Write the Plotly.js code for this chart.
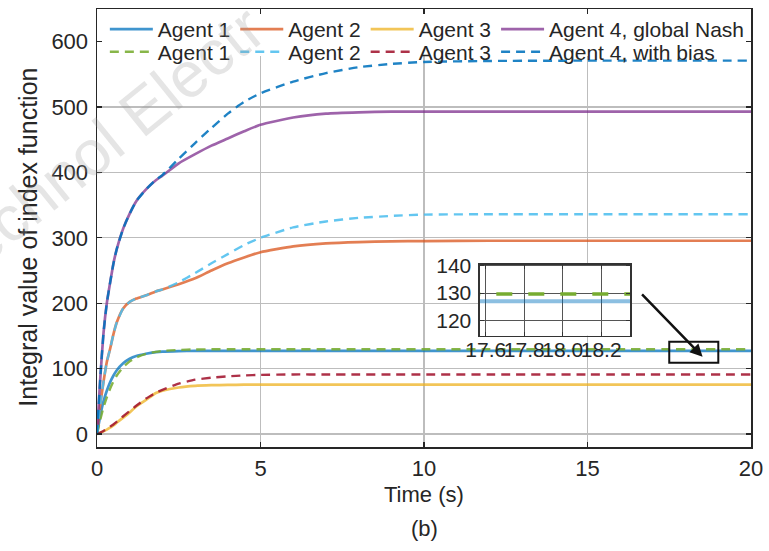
<!DOCTYPE html>
<html>
<head>
<meta charset="utf-8">
<script src="https://cdn.plot.ly/plotly-3.0.1.min.js"></script>
<style>
  html, body { margin: 0; padding: 0; background: #fff; }
  #chart { width: 769px; height: 551px; }
</style>
</head>
<body>
<div id="chart"></div>
<script>
// Sample times (s)
const time = [0, 0.1, 0.2, 0.3, 0.4, 0.5, 0.6, 0.8, 1.0, 1.2, 1.5, 1.8, 2.0, 2.5, 3, 3.5, 4, 4.5, 5, 6, 7, 8, 9, 10, 12, 15, 20];

// Integral value of index function, global Nash strategies
const agent1Nash = [0, 28, 50, 66, 79, 89, 97, 108, 115, 119.3, 122.7, 125, 125.9, 126.7, 127, 127, 127, 127, 127, 127, 127, 127, 127, 127, 127, 127, 127];
const agent2Nash = [0, 45, 80, 110, 130, 152, 170, 192, 202, 207, 212, 218, 221, 229, 238, 250, 261, 270, 278, 287, 291.5, 293.5, 294.5, 295, 295.5, 295.5, 295.5];
const agent3Nash = [0, 1.5, 4, 6.5, 9.5, 13, 17, 25, 33, 42, 52, 62.5, 66, 71, 73.5, 74.5, 75, 75.3, 75.5, 75.5, 75.5, 75.5, 75.5, 75.5, 75.5, 75.5, 75.5];
const agent4Nash = [0, 85, 155, 200, 231, 260, 282, 314, 337, 356, 374, 388, 395, 414, 428, 441, 452, 463, 473, 484, 490, 492, 493, 493, 493, 493, 493];

// Integral value of index function, strategies with bias
const agent1Bias = [0, 22, 41, 56, 69, 80, 89, 102, 111, 117, 122.5, 125.5, 127, 128.5, 129.2, 129.5, 129.6, 129.6, 129.6, 129.6, 129.6, 129.6, 129.6, 129.6, 129.6, 129.6, 129.6];
const agent2Bias = [0, 45, 80, 110, 130, 152, 170, 192, 202, 207, 212, 218, 221, 232, 246, 261, 275, 289, 300, 316, 325, 330.5, 333.5, 335.5, 336, 336, 336];
const agent3Bias = [0, 2, 4.5, 7.5, 11, 14.5, 18.5, 27, 35, 43, 54, 63, 67.5, 77, 83, 86, 88, 89.5, 90.3, 91, 91, 91, 91, 91, 91, 91, 91];
const agent4Bias = [0, 85, 155, 200, 231, 260, 282, 314, 337, 356, 374, 389, 396, 421, 445, 468, 490, 508, 521, 539, 552, 561, 566, 569, 570.5, 571, 571];

// Axis ticks
const xTicks = [0, 5, 10, 15, 20];
const yTicks = [0, 100, 200, 300, 400, 500, 600];
const insetXTicks = [17.6, 17.8, 18.0, 18.2];
const insetXLabels = ['17.6', '17.8', '18.0', '18.2'];
const insetYTicks = [120, 130, 140];

const names = ['Agent 1', 'Agent 2', 'Agent 3', 'Agent 4, global Nash',
               'Agent 1', 'Agent 2', 'Agent 3', 'Agent 4, with bias'];

const FONT = 'Liberation Sans, Arial, Helvetica, sans-serif';
const INK = '#262626';
const DASH = '9px,6px';

function solid(y, name, color) {
  return { x: time, y: y, name: name, type: 'scatter', mode: 'lines', legend: 'legend',
           line: { color: color, width: 2.7, shape: 'spline', smoothing: 0.5 }, opacity: 0.75 };
}
function dashed(y, name, color) {
  return { x: time, y: y, name: name, type: 'scatter', mode: 'lines', legend: 'legend2',
           line: { color: color, width: 2.4, dash: DASH, shape: 'spline', smoothing: 0.5 }, opacity: 0.88 };
}

const traces = [
  solid(agent1Nash, names[0], '#0072BD'),
  solid(agent2Nash, names[1], '#D95319'),
  solid(agent3Nash, names[2], '#EDB120'),
  solid(agent4Nash, names[3], '#7E2F8E'),
  dashed(agent1Bias, names[4], '#77AC30'),
  dashed(agent2Bias, names[5], '#4DBEEE'),
  dashed(agent3Bias, names[6], '#A2142F'),
  dashed(agent4Bias, names[7], '#0072BD'),
  // zoomed view of Agent 1 near t = 18 s
  { x: time, y: agent1Nash, xaxis: 'x2', yaxis: 'y2', type: 'scatter', mode: 'lines',
    showlegend: false, hoverinfo: 'skip', opacity: 0.45,
    line: { color: '#0072BD', width: 4 } },
  { x: time, y: agent1Bias, xaxis: 'x2', yaxis: 'y2', type: 'scatter', mode: 'lines',
    showlegend: false, hoverinfo: 'skip',
    line: { color: '#77AC30', width: 3.5, dash: '16px,16px' } }
];

const axisCommon = {
  showgrid: true, gridcolor: '#bdbdbd', gridwidth: 1.2,
  zeroline: false, showline: true, linecolor: INK, linewidth: 1.5,
  mirror: 'ticks', ticks: 'inside', ticklen: 5, tickcolor: INK, tickwidth: 1.2,
  tickfont: { family: FONT, size: 22, color: INK }
};

const legendCommon = {
  orientation: 'h', xanchor: 'left', yanchor: 'top',
  bgcolor: 'rgba(0,0,0,0)', borderwidth: 0, itemwidth: 43,
  font: { family: FONT, size: 21, color: INK }
};

const layout = {
  width: 769, height: 551,
  margin: { l: 97, r: 18, t: 9, b: 104 },
  paper_bgcolor: '#ffffff', plot_bgcolor: '#ffffff',
  font: { family: FONT, color: INK },
  showlegend: true,
  legend: Object.assign({}, legendCommon, { x: 0.012, y: 1 }),
  legend2: Object.assign({}, legendCommon, { x: 0.012, y: 0.9484 }),
  xaxis: Object.assign({}, axisCommon, {
    range: [0, 20], tickvals: xTicks, ticktext: xTicks.map(String), tickangle: 0,
    ticklabelstandoff: 1
  }),
  yaxis: Object.assign({}, axisCommon, {
    range: [-20, 650], tickvals: yTicks, ticktext: yTicks.map(String),
    ticklabelstandoff: 3
  }),
  xaxis2: {
    domain: [0.5856, 0.815], anchor: 'y2', range: [17.57, 18.35],
    tickvals: insetXTicks, ticktext: insetXLabels, tickangle: 0,
    showgrid: true, gridcolor: '#555555', gridwidth: 1,
    zeroline: false, showline: true, linecolor: '#333333', linewidth: 1.5,
    mirror: 'ticks', ticks: 'inside', ticklen: 4, tickcolor: '#333333',
    tickfont: { family: FONT, size: 21, color: INK }, ticklabelstandoff: -5
  },
  yaxis2: {
    domain: [0.2543, 0.4164], anchor: 'x2', range: [114.4, 140.4],
    tickvals: insetYTicks, ticktext: insetYTicks.map(String),
    showgrid: true, gridcolor: '#555555', gridwidth: 1,
    zeroline: false, showline: true, linecolor: '#333333', linewidth: 1.5,
    mirror: 'ticks', ticks: 'inside', ticklen: 4, tickcolor: '#333333',
    tickfont: { family: FONT, size: 21, color: INK }, ticklabelstandoff: 3
  },
  shapes: [
    // white band behind the legend
    { type: 'rect', xref: 'x', yref: 'y', x0: 0, x1: 20, y0: 578, y1: 650,
      fillcolor: '#ffffff', line: { width: 0 }, layer: 'between' },
    // region shown in the zoomed view
    { type: 'rect', xref: 'x', yref: 'y', x0: 17.5, x1: 19.0, y0: 109, y1: 141,
      line: { color: '#111111', width: 2 }, fillcolor: 'rgba(0,0,0,0)' }
  ],
  annotations: [
    { xref: 'x', yref: 'y', x: 18.52, y: 118, ax: -62, ay: -64, text: '',
      showarrow: true, arrowhead: 2, arrowsize: 1, arrowwidth: 2.5, arrowcolor: '#111111' },
    // axis titles
    { xref: 'paper', yref: 'paper', x: -0.1055, y: 0.478, xanchor: 'center', yanchor: 'middle',
      text: 'Integral value of index function', showarrow: false, textangle: -90,
      font: { family: FONT, size: 25, color: INK } },
    { xref: 'paper', yref: 'paper', x: 0.5, y: -0.1087, xanchor: 'center', yanchor: 'middle',
      text: 'Time (s)', showarrow: false, font: { family: FONT, size: 22, color: INK } },
    { xref: 'paper', yref: 'paper', x: 0.5, y: -0.187, xanchor: 'center', yanchor: 'middle',
      text: '(b)', showarrow: false, font: { family: FONT, size: 22, color: INK } },
    { xref: 'paper', yref: 'paper', x: 0.003, y: 0.688, xanchor: 'center', yanchor: 'middle',
      text: 'Technol Electr', showarrow: false, textangle: -39,
      font: { family: FONT, size: 64, color: 'rgba(150,150,150,0.25)' } }
  ]
};

Plotly.newPlot('chart', traces, layout, { displayModeBar: false, staticPlot: true });
</script>
</body>
</html>
